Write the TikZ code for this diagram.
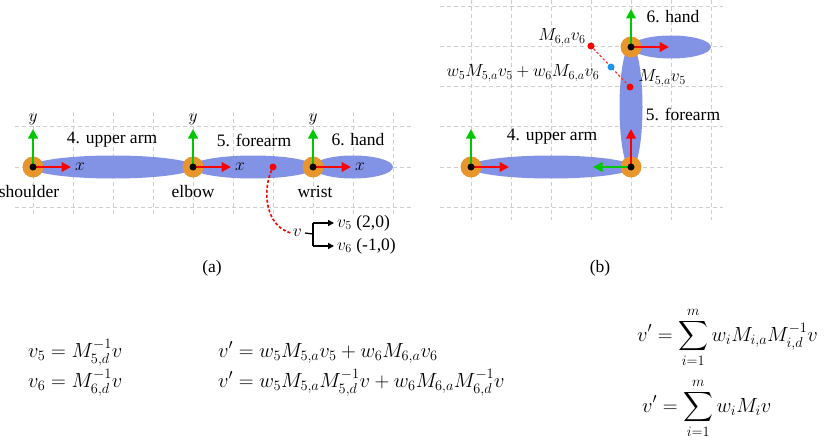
\RequirePackage{fix-cm}
\documentclass[tikz,border=0pt]{standalone}
\usepackage{exscale}
\usepackage[no-math]{fontspec}
\newfontfamily\tms{Liberation Serif}
\usetikzlibrary{arrows.meta}
\definecolor{jointc}{HTML}{E8952B}
\definecolor{limbc}{HTML}{8293E6}
\definecolor{gridc}{HTML}{CDCDCD}
\definecolor{axred}{HTML}{FF0000}
\definecolor{axgreen}{HTML}{00C800}
\definecolor{blendc}{HTML}{1E96F0}
\begin{document}
\begin{tikzpicture}[x=1pt,y=-1pt,
  gridline/.style={gridc, line width=1pt, dash pattern=on 4pt off 3pt},
  limb/.style={fill=limbc, draw=none},
  joint/.style={circle, fill=jointc, minimum size=21pt, inner sep=0pt},
  jdot/.style={circle, fill=black, minimum size=7pt, inner sep=0pt},
  pt/.style={circle, fill=axred, minimum size=7pt, inner sep=0pt},
  xaxis/.style={axred, line width=2.6pt, -{Triangle[length=9.5pt,width=9.5pt]}},
  yaxis/.style={axgreen, line width=2.6pt, -{Triangle[length=9.5pt,width=9.5pt]}},
  lbl/.style={font=\tms\fontsize{17.5}{20}\selectfont, inner sep=0pt},
  eq/.style={font=\fontsize{20.5}{24}\selectfont, inner sep=0pt, anchor=base west},
  brk/.style={black, line width=1.3pt},
  brkarrow/.style={black, line width=1.3pt, -{Triangle[length=6pt,width=6pt]}, shorten >=3pt},
  curve/.style={axred, line width=1.6pt, dash pattern=on 3pt off 2pt},
  blendline/.style={axred!80, line width=1.2pt, dash pattern=on 2.5pt off 2pt}
]
\useasboundingbox (0,0) rectangle (839,444);

% ---------------- panel (a) grid
\foreach \yy in {127,167,207} \draw[gridline] (15,\yy) -- (412,\yy);
\foreach \xx in {33,73,113,153,193,233,273,313,353,393} \draw[gridline] (\xx,112) -- (\xx,215);

% limbs (a)
\fill[limb] (113,167) ellipse [x radius=82, y radius=11.5];
\fill[limb] (253,167) ellipse [x radius=62, y radius=11.5];
\fill[limb] (353,167) ellipse [x radius=40, y radius=11.5];

% joints (a)
\node[joint] (sa) at (33,167) {};
\node[joint] (ea) at (193,167) {};
\node[joint] (wa) at (313,167) {};
\foreach \j/\xx in {sa/33,ea/193,wa/313}{
  \coordinate (\j x) at (\xx+38,167);
  \coordinate (\j y) at (\xx,129);
  \draw[yaxis] (\j.center) -- (\j y);
  \draw[xaxis] (\j.center) -- (\j x);
  \node[jdot] (\j d) at (\j) {};
  \node[lbl, anchor=west] (\j xl) at (\xx+42,167) {$x$};
  \node[lbl] (\j yl) at (\xx,119) {$y$};
}
\node[lbl] (ual) at (112,140) {4. upper arm};
\node[lbl] (fal) at (254,140) {5. forearm};
\node[lbl] (hal) at (358,140) {6. hand};
\node[lbl] (shl) at (29,192) {shoulder};
\node[lbl] (ell) at (193,192) {elbow};
\node[lbl] (wrl) at (315,192) {wrist};

% point v and bracket
\node[pt] (pa) at (273,167) {};
\node[lbl, anchor=east] (vl) at (302,233) {$v$};
\coordinate (brm) at (313,234);
\coordinate (brt) at (313,223);
\coordinate (brb) at (313,246);
\node[lbl, anchor=west] (v5l) at (337,223) {$v_5$ (2,0)};
\node[lbl, anchor=west] (v6l) at (337,246) {$v_6$ (-1,0)};
\draw[curve] (pa) .. controls (262,192) and (266,226) .. ([xshift=-2pt]vl.west);
\draw[brk] ([xshift=3pt]vl.east) -- (brm);
\draw[brk] (brt) -- (brb);
\draw[brkarrow] (brt) -- (v5l.west);
\draw[brkarrow] (brb) -- (v6l.west);
\node[lbl] (capa) at (212,268) {(a)};

% ---------------- panel (b) grid
\foreach \yy in {7,47,87,127,167,207} \draw[gridline] (440,\yy) -- (723,\yy);
\foreach \xx in {471,511,551,591,631,671,711} \draw[gridline] (\xx,0) -- (\xx,220);

% limbs (b)
\fill[limb] (551,167) ellipse [x radius=82, y radius=11.5];
\fill[limb] (631,107) ellipse [x radius=11.5, y radius=62];
\fill[limb] (671,47) ellipse [x radius=40, y radius=11.5];

\node[joint] (sb) at (471,167) {};
\node[joint] (eb) at (631,167) {};
\node[joint] (wb) at (631,47) {};
\coordinate (sbx) at (509,167); \coordinate (sby) at (471,129);
\coordinate (ebx) at (631,129); \coordinate (eby) at (593,167);
\coordinate (wbx) at (669,47);  \coordinate (wby) at (631,9);
\foreach \j in {sb,eb,wb}{
  \draw[yaxis] (\j.center) -- (\j y);
  \draw[xaxis] (\j.center) -- (\j x);
  \node[jdot] (\j d) at (\j) {};
}
\node[lbl] (ualb) at (552,137) {4. upper arm};
\node[lbl] (falb) at (683,114) {5. forearm};
\node[lbl] (halb) at (673,17) {6. hand};

\node[pt] (m6) at (591,46) {};
\node[pt] (m5) at (630,87) {};
\draw[blendline] (m6) -- (m5);
\node[circle, fill=blendc, minimum size=7pt, inner sep=0pt] (bl) at (611,67) {};
\node[lbl] (m6l) at (562,37) {$M_{6,a}v_6$};
\node[lbl] (m5l) at (662,78) {$M_{5,a}v_5$};
\node[lbl] (bll) at (523,73) {$w_5M_{5,a}v_5+w_6M_{6,a}v_6$};
\node[lbl] (capb) at (600,268) {(b)};

% ---------------- equations
\node[eq] (e1) at (28,357) {$v_5 = M^{-1}_{5,d}v$};
\node[eq] (e2) at (28,387) {$v_6 = M^{-1}_{6,d}v$};
\node[eq] (e3) at (218,357) {$v' = w_5M_{5,a}v_5 + w_6M_{6,a}v_6$};
\node[eq] (e4) at (218,387) {$v' = w_5M_{5,a}M^{-1}_{5,d}v + w_6M_{6,a}M^{-1}_{6,d}v$};
\node[eq] (e5) at (637,341) {$\displaystyle v' = \sum_{i=1}^{m} w_iM_{i,a}M^{-1}_{i,d}v$};
\node[eq] (e6) at (642,412) {$\displaystyle v' = \sum_{i=1}^{m} w_iM_iv$};
\end{tikzpicture}
\end{document}
